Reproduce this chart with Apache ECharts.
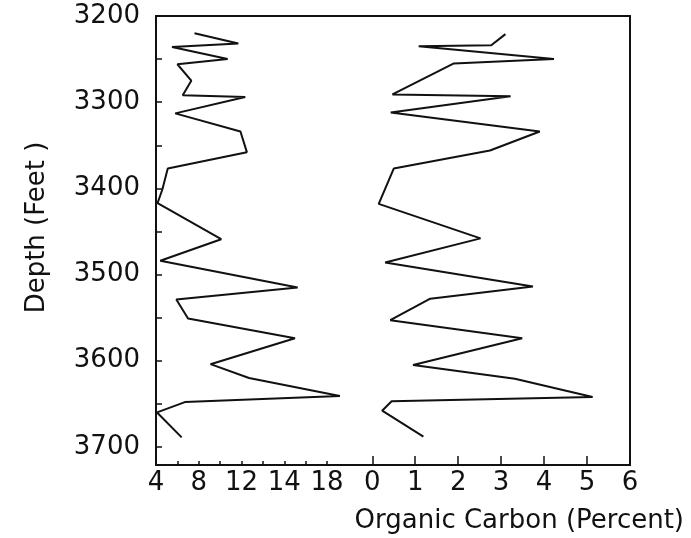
<!DOCTYPE html>
<html>
<head>
<meta charset="utf-8">
<script src="https://cdn.jsdelivr.net/npm/echarts@6/dist/echarts.min.js"></script>
<style>
  html, body { margin: 0; padding: 0; background: #fff; }
  #chart { width: 691px; height: 538px; }
</style>
</head>
<body>
<div id="chart"></div>
<script>
// Left profile: depth (ft) and value on the 4–20 scale
var leftDepth = [3220, 3232, 3236, 3250, 3256, 3275, 3292, 3294, 3313, 3334, 3358, 3377,
                 3401, 3417, 3459, 3484, 3515, 3529, 3551, 3574, 3604, 3620, 3641, 3648, 3660, 3689];
var leftValue = [7.6, 11.7, 5.5, 10.7, 6.0, 7.3, 6.5, 12.35, 5.8, 11.9, 12.5, 5.1,
                 4.6, 4.15, 10.1, 4.4, 17.25, 5.9, 7.0, 17.0, 9.1, 12.7, 21.2, 6.7, 4.1, 6.4];

// Organic carbon profile: depth (ft) and percent
var carbonDepth = [3221, 3234, 3235, 3250, 3255, 3291, 3293, 3312, 3334, 3356, 3377, 3418,
                   3458, 3486, 3514, 3528, 3553, 3574, 3605, 3621, 3642, 3647, 3658, 3688];
var carbonValue = [3.1, 2.77, 1.08, 4.23, 1.9, 0.47, 3.22, 0.43, 3.9, 2.74, 0.5, 0.15,
                   2.52, 0.3, 3.74, 1.35, 0.42, 3.49, 0.95, 3.32, 5.13, 0.45, 0.23, 1.19];

// Axis ticks and labels
var depthTicks = [3250, 3300, 3350, 3400, 3450, 3500, 3550, 3600, 3650, 3700];
var depthLabels = [3200, 3300, 3400, 3500, 3600, 3700];
var leftTicks = [4, 6, 8, 10, 12, 14, 16, 18, 20];
var leftLabelValues = [4, 8, 12, 16, 20];
var leftLabelTexts = ['4', '8', '12', '14', '18'];
var carbonTicks = [0, 1, 2, 3, 4, 5, 6];

var FONT = 'DejaVu Sans';
var INK = '#111';
var SIZE = 26;

function pairs(ys, xs) {
  return ys.map(function (d, i) { return [xs[i], d]; });
}

var chart = echarts.init(document.getElementById('chart'), null, { renderer: 'canvas' });

chart.setOption({
  animation: false,
  backgroundColor: '#fff',
  title: {
    text: 'Organic Carbon (Percent)',
    right: 2,
    top: 503,
    textStyle: { fontFamily: FONT, fontSize: SIZE, fontWeight: 'normal', color: INK }
  },
  grid: {
    left: 156, right: 61, top: 16, bottom: 73,
    show: true, borderColor: INK, borderWidth: 2, backgroundColor: 'transparent'
  },
  yAxis: {
    type: 'value',
    inverse: true,
    min: 3200,
    max: 3721,
    name: 'Depth (Feet )',
    nameLocation: 'middle',
    nameGap: 106,
    nameTextStyle: { fontFamily: FONT, fontSize: SIZE, color: INK, padding: [0, 0, 0, 26] },
    splitLine: { show: false },
    axisLine: { show: false, onZero: false },
    axisTick: { show: true, inside: true, length: 6, customValues: depthTicks,
                lineStyle: { color: INK, width: 1.5 } },
    axisLabel: { customValues: depthLabels, margin: 16,
                 fontFamily: FONT, fontSize: SIZE, color: INK,
                 formatter: function (v) { return String(v); } }
  },
  xAxis: [
    {
      type: 'value',
      position: 'bottom',
      min: 4,
      max: 4 + 474 / 10.69,
      splitLine: { show: false },
      axisLine: { show: false, onZero: false },
      axisTick: { show: true, inside: true, length: 4, customValues: leftTicks,
                  lineStyle: { color: INK, width: 1.5 } },
      axisLabel: {
        customValues: leftLabelValues,
        margin: 5,
        fontFamily: FONT, fontSize: SIZE, color: INK,
        formatter: function (v) {
          var i = leftLabelValues.indexOf(v);
          return i >= 0 ? leftLabelTexts[i] : '';
        }
      }
    },
    {
      type: 'value',
      position: 'bottom',
      offset: 0,
      min: -217 / 43.1,
      max: 6,
      splitLine: { show: false },
      axisLine: { show: false, onZero: false },
      axisTick: { show: true, inside: true, length: 9, customValues: carbonTicks,
                  lineStyle: { color: INK, width: 1.5 } },
      axisLabel: { customValues: carbonTicks, margin: 5,
                   fontFamily: FONT, fontSize: SIZE, color: INK,
                   formatter: function (v) { return String(v); } }
    }
  ],
  series: [
    {
      type: 'line',
      xAxisIndex: 0,
      data: pairs(leftDepth, leftValue),
      symbol: 'none',
      lineStyle: { color: INK, width: 2 }
    },
    {
      type: 'line',
      xAxisIndex: 1,
      data: pairs(carbonDepth, carbonValue),
      symbol: 'none',
      lineStyle: { color: INK, width: 2 }
    }
  ]
});
</script>
</body>
</html>
